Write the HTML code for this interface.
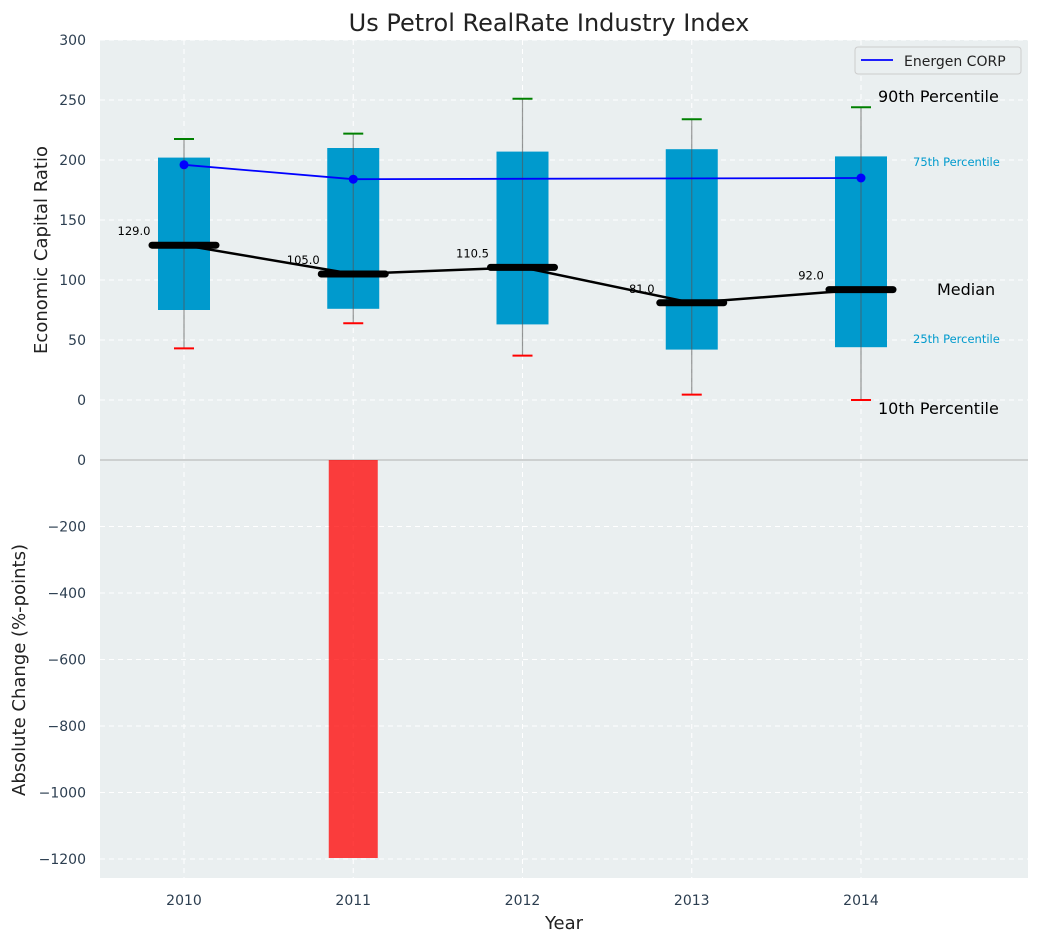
<!DOCTYPE html>
<html><head><meta charset="utf-8"><style>
body{margin:0;background:#fff;font-family:"Liberation Sans","DejaVu Sans",sans-serif}
svg text{font-family:"DejaVu Sans","Liberation Sans",sans-serif}
</style></head><body>
<svg id="c" width="1039" height="942" xmlns="http://www.w3.org/2000/svg"></svg>
<script>
const years=[2010,2011,2012,2013,2014];
const p10=[43,64,37,4.5,0];
const p25=[75,76,63,42,44];
const med=[129,105,110.5,81,92];
const p75=[202,210,207,209,203];
const p90=[217.5,222,251,234,244];
const energenYears=[2010,2011,2014];
const energen=[196,184,185];
const change=[0,-1197,0,0,0];
const topTicks=[0,50,100,150,200,250,300];
const botTicks=[0,-200,-400,-600,-800,-1000,-1200];

const svg=document.getElementById('c');
const NS='http://www.w3.org/2000/svg';
function el(t,a,p){const e=document.createElementNS(NS,t);for(const k in a)e.setAttribute(k,a[k]);(p||svg).appendChild(e);return e;}
const L=100,R=1028,T1=40,B1=460,B2=878;
const x=v=>184+(v-2010)*169.25;
const y1=v=>400-v*1.2;
const y2=v=>460-v*0.3325;

const bg1=el('rect',{x:L,y:T1,width:R-L,height:B1-T1,fill:'#eaeff0'});


const bg2=el('rect',{x:L,y:B1,width:R-L,height:B2-B1,fill:'#eaeff0'});



// grids
topTicks.forEach(t=>{
  el('line',{x1:L,x2:R,y1:y1(t),y2:y1(t),stroke:'#fff','stroke-dasharray':'5,4','stroke-width':1});
  const tx=el('text',{x:86,y:y1(t)+5,'text-anchor':'end','font-size':14,fill:'#2c3e50'});tx.textContent=t;
  
  
});
botTicks.forEach(t=>{
  el('line',{x1:L,x2:R,y1:y2(t),y2:y2(t),stroke:'#fff','stroke-dasharray':'5,4','stroke-width':1});
  const tx=el('text',{x:86,y:y2(t)+5,'text-anchor':'end','font-size':14,fill:'#2c3e50'});tx.textContent=t.toString().replace('-','\u2212');
  
  
});
years.forEach(yr=>{
  el('line',{x1:x(yr),x2:x(yr),y1:T1,y2:B2,stroke:'#fff','stroke-dasharray':'5,4','stroke-width':1});
  const tx=el('text',{x:x(yr),y:905,'text-anchor':'middle','font-size':14,fill:'#2c3e50'});tx.textContent=yr;
  
  
});
el('line',{x1:L,x2:R,y1:B1,y2:B1,stroke:'#b0b0b0','stroke-width':1});

// boxes
years.forEach((yr,i)=>{
  const b=el('rect',{x:x(yr)-26,y:y1(p75[i]),width:52,height:y1(p25[i])-y1(p75[i]),fill:'#009acd'});
  
  
  const w=el('line',{x1:x(yr),x2:x(yr),y1:y1(p90[i]),y2:y1(p10[i]),stroke:'#555','stroke-opacity':0.6,'stroke-width':1.2});
  
  
  const c1=el('line',{x1:x(yr)-10,x2:x(yr)+10,y1:y1(p90[i]),y2:y1(p90[i]),stroke:'green','stroke-width':2});
  
  
  const c2=el('line',{x1:x(yr)-10,x2:x(yr)+10,y1:y1(p10[i]),y2:y1(p10[i]),stroke:'red','stroke-width':2});
  
  
});
// median connecting line
const ml=el('polyline',{points:years.map((yr,i)=>x(yr)+','+y1(med[i])).join(' '),fill:'none',stroke:'#000','stroke-width':2.5});


years.forEach((yr,i)=>{
  const m=el('line',{x1:x(yr)-32,x2:x(yr)+32,y1:y1(med[i]),y2:y1(med[i]),stroke:'#000','stroke-width':7,'stroke-linecap':'round'});
  
  
  const t=el('text',{x:x(yr)-50,y:y1(med[i])-10,'text-anchor':'middle','font-size':11.5,fill:'#000'});t.textContent=med[i].toFixed(1);
  
  
});
// energen
const el1=el('polyline',{points:energenYears.map((yr,i)=>x(yr)+','+y1(energen[i])).join(' '),fill:'none',stroke:'blue','stroke-width':1.8});


energenYears.forEach((yr,i)=>{
  const c=el('circle',{cx:x(yr),cy:y1(energen[i]),r:4.5,fill:'blue'});
  
  
});
// change bars
years.forEach((yr,i)=>{
  if(change[i]===0)return;
  const b=el('rect',{x:x(yr)-24.5,y:Math.min(y2(0),y2(change[i])),width:49,height:Math.abs(y2(change[i])-y2(0)),fill:'#ff0000','fill-opacity':0.75});
  
  
});
// right annotations
[['90th Percentile',878,102,16,'#000'],['75th Percentile',913,166,11.5,'#009acd'],['Median',937,295,16,'#000'],['25th Percentile',913,343,11.5,'#009acd'],['10th Percentile',878,414,16,'#000']].forEach(a=>{
  const t=el('text',{x:a[1],y:a[2],'font-size':a[3],fill:a[4]});t.textContent=a[0];
  
  
});
// legend
const lg=el('g',{});


el('rect',{x:855,y:47,width:166,height:27,rx:3,fill:'#eaeff0',stroke:'#ccc'},lg);
el('line',{x1:861,x2:893,y1:60,y2:60,stroke:'blue','stroke-width':1.8},lg);
const lt=el('text',{x:904,y:66,'font-size':14,fill:'#222'},lg);lt.textContent='Energen CORP';
// titles
const tt=el('text',{x:549,y:31,'text-anchor':'middle','font-size':24,fill:'#222'});tt.textContent='Us Petrol RealRate Industry Index';


const yt=el('text',{x:0,y:0,'text-anchor':'middle','font-size':18,fill:'#222',transform:'translate(47,250) rotate(-90)'});yt.textContent='Economic Capital Ratio';


const yb=el('text',{x:0,y:0,'text-anchor':'middle','font-size':18,fill:'#222',transform:'translate(25,670) rotate(-90)'});yb.textContent='Absolute Change (%-points)';


const xt=el('text',{x:564,y:929,'text-anchor':'middle','font-size':18,fill:'#222'});xt.textContent='Year';


</script>
</body></html>
